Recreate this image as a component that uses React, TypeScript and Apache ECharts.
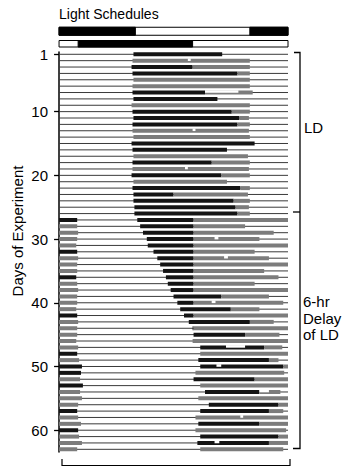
import React, { useEffect, useRef } from 'react';
import * as echarts from 'echarts';

// ---- data ----
const DAYS: number[] = Array.from({ length: 63 }, (_, i) => i + 1);
const DAY_TICKS = [1, 10, 20, 30, 40, 50, 60];
const SHIFT_DAY = 27; // first day of the 6-hr delayed LD

// activity onset (h) per day
const ONSET = [
  7.8, 7.7, 7.6, 7.7, 7.8, 7.7, 7.7, 7.8, 7.6, 7.7, 7.8, 7.7, 7.7, 7.8, 7.6, 7.7, 7.8, 7.7, 7.7, 7.6, 7.8, 7.7, 7.8, 7.8, 7.9, 7.9,
  8.2, 8.5, 8.8, 9.2, 9.3, 9.9, 10.3, 10.6, 10.9, 11.2, 11.4, 11.7, 12.0, 12.4, 12.7, 13.1, 13.6, 14.0,
  14.1, 14.0, 14.8, 14.8, 14.6, 14.8, 14.3, 14.1, 14.8, 15.3, 14.6, 15.7, 14.8, 14.3, 14.6, 14.3, 14.8, 14.5, 14.8,
];
// end of the dense (dark) part of activity (h) per day
const DARK_END = [
  17.1, 7.7, 14.0, 18.7, 7.8, 7.7, 15.3, 16.6, 7.6, 18.1, 18.9, 18.7, 7.7, 7.8, 20.5, 17.6, 7.8, 16.0, 7.7, 17.0, 7.8, 19.0, 12.0, 18.3, 18.5, 18.7,
  14.1, 14.1, 14.1, 14.1, 14.1, 14.1, 14.1, 14.1, 14.1, 14.1, 14.1, 14.1, 17.0, 14.1, 18.0, 14.1, 20.0, 14.1,
  19.5, 14.0, 21.5, 14.8, 22.0, 23.5, 14.3, 20.5, 14.8, 21.0, 14.6, 23.0, 22.0, 14.3, 21.0, 14.3, 23.0, 22.0, 14.8,
];
// activity offset (h) per day
const OFFSET = [
  17.1, 20.0, 20.0, 20.0, 20.0, 20.0, 20.3, 16.6, 20.0, 20.0, 19.9, 20.0, 19.9, 20.0, 20.5, 17.6, 19.8, 20.0, 19.9, 20.0, 17.6, 20.0, 19.8, 20.0, 19.9, 20.0,
  24, 19.5, 22.5, 21, 24, 20.5, 22, 24, 21.5, 23, 20.5, 24, 22, 23.5, 21, 24, 22.5, 24,
  23.1, 24, 23.4, 24, 23.0, 24, 23.6, 24, 24, 23.2, 24, 24, 23.5, 24, 24, 23.8, 24, 24, 23.5,
];
// activity continuing past midnight (0 h -> value), days 27..63
const WRAP_END = [
  1.9, 1.9, 2.0, 1.9, 1.8, 1.9, 2.0, 1.9, 1.9, 1.8, 1.9, 2.0, 1.9, 1.9, 1.8, 1.9, 2.0, 1.9, 1.9, 1.8,
  2.0, 1.9, 2.1, 2.4, 2.3, 2.2, 2.5, 2.2, 2.4, 2.0, 1.9, 2.0, 2.3, 2.0, 2.1, 2.4, 1.9,
];
// print density of the wrapped part: k = dark, g = grey
const WRAP_SHADE = 'kggggkgggkgggggkgggggkgkkgkgggkggkggg';
// breaks in activity: [day, from h, to h]
const GAPS: number[][] = [
  [2, 13.5, 13.8], [7, 15.3, 18.8], [13, 14.0, 14.3], [19, 13.2, 13.5], [30, 16.3, 16.7], [33, 17.3, 17.7],
  [40, 16.0, 16.4], [47, 17.5, 19.5], [50, 16.5, 17.0], [54, 21.0, 22.0], [58, 19.0, 19.3], [62, 16.3, 16.8],
];
const SCHEDULE_ROWS = ['LD', 'Delayed LD'];
const SCHEDULE_DARK: number[][][] = [
  [[0, 8], [20, 24]],
  [[2, 14]],
];

const FONT = '"Liberation Sans", Arial, Helvetica, sans-serif';
const DARK = '#141414';
const GREY = '#7c7c7c';

export default function App() {
  const ref = useRef<HTMLDivElement>(null);
  useEffect(() => {
    if (!ref.current) return;
    const chart = echarts.init(ref.current, undefined, { renderer: 'svg' });

    const actData: number[][] = [];
    DAYS.forEach((d, i) => {
      const on = ONSET[i];
      const de = DARK_END[i];
      const off = OFFSET[i];
      if (de > on) actData.push([on, de, d, 1]);
      if (off > de) actData.push([Math.max(on, de), off, d, 0]);
      if (d >= SHIFT_DAY) {
        const w = WRAP_END[d - SHIFT_DAY];
        actData.push([0, w, d, WRAP_SHADE[d - SHIFT_DAY] === 'k' ? 1 : 0]);
      }
    });
    const baseData = DAYS.map((d) => [0, 24, d]);

    const schedData: number[][] = [];
    SCHEDULE_ROWS.forEach((_, r) => {
      schedData.push([0, 24, r + 0.5, 0, r]);
      SCHEDULE_DARK[r].forEach(([a, b]) => schedData.push([a, b, r + 0.5, 1, r]));
    });

    chart.setOption({
      animation: false,
      backgroundColor: '#ffffff',
      grid: [
        { left: 50, right: 56, top: 52, height: 400 },
        { left: 50, right: 56, top: 25, height: 25 },
      ],
      xAxis: [
        { gridIndex: 0, type: 'value', min: -0.95, max: 24, show: false },
        { gridIndex: 1, type: 'value', min: -0.95, max: 24, show: false },
      ],
      yAxis: [
        {
          gridIndex: 0,
          type: 'value',
          inverse: true,
          min: 0.64,
          max: 63.42,
          axisLine: { show: true, lineStyle: { color: '#000', width: 1.5 } },
          axisTick: { show: true, customValues: DAY_TICKS, length: 5, lineStyle: { color: '#000', width: 1.3 } },
          axisLabel: { customValues: DAY_TICKS, fontSize: 15, color: '#000', margin: 2, fontFamily: FONT },
          splitLine: { show: false },
        },
        { gridIndex: 1, type: 'value', inverse: true, min: 0, max: 2, show: false },
      ],
      series: [
        {
          type: 'custom',
          xAxisIndex: 0,
          yAxisIndex: 0,
          silent: true,
          data: baseData,
          encode: { x: [0, 1], y: 2 },
          renderItem: (_p: any, api: any) => {
            const s = api.coord([api.value(0), api.value(2)]);
            const e = api.coord([api.value(1), api.value(2)]);
            return {
              type: 'line',
              shape: { x1: s[0], y1: s[1], x2: e[0], y2: e[1] },
              style: { stroke: '#3a3a3a', lineWidth: 1 },
            };
          },
        },
        {
          type: 'custom',
          xAxisIndex: 0,
          yAxisIndex: 0,
          silent: true,
          data: actData,
          encode: { x: [0, 1], y: 2 },
          renderItem: (_p: any, api: any) => {
            const s = api.coord([api.value(0), api.value(2)]);
            const e = api.coord([api.value(1), api.value(2)]);
            return {
              type: 'rect',
              shape: { x: s[0], y: s[1] - 2, width: e[0] - s[0], height: 4 },
              style: { fill: api.value(3) ? DARK : GREY },
            };
          },
        },
        {
          type: 'custom',
          xAxisIndex: 0,
          yAxisIndex: 0,
          silent: true,
          data: GAPS.map(([d, a, b]) => [a, b, d]),
          encode: { x: [0, 1], y: 2 },
          renderItem: (_p: any, api: any) => {
            const s = api.coord([api.value(0), api.value(2)]);
            const e = api.coord([api.value(1), api.value(2)]);
            return {
              type: 'rect',
              shape: { x: s[0], y: s[1] - 2.3, width: e[0] - s[0], height: 2.6 },
              style: { fill: '#ffffff' },
            };
          },
        },
        {
          type: 'custom',
          xAxisIndex: 1,
          yAxisIndex: 1,
          silent: true,
          data: schedData,
          encode: { x: [0, 1], y: 2 },
          renderItem: (_p: any, api: any) => {
            const s = api.coord([api.value(0), api.value(2)]);
            const e = api.coord([api.value(1), api.value(2)]);
            const h = api.value(4) === 0 ? 8 : 6.5;
            return {
              type: 'rect',
              shape: { x: s[0], y: s[1] - h / 2, width: e[0] - s[0], height: h },
              style: { fill: api.value(3) ? '#000' : '#fff', stroke: '#000', lineWidth: 1 },
            };
          },
        },
      ],
      graphic: [
        { type: 'text', left: 59, top: 7, style: { text: 'Light Schedules', fontSize: 14, fill: '#000', fontFamily: FONT } },
        {
          type: 'text',
          x: 17,
          y: 231,
          rotation: Math.PI / 2,
          style: { text: 'Days of Experiment', fontSize: 15, fill: '#000', fontFamily: FONT, textAlign: 'center', textVerticalAlign: 'middle' },
        },
        { type: 'polyline', shape: { points: [[294, 52.5], [300, 52.5], [300, 448.5], [293, 448.5]] }, style: { stroke: '#000', lineWidth: 1.3, fill: 'none' } },
        { type: 'line', shape: { x1: 293, y1: 212, x2: 300, y2: 212 }, style: { stroke: '#000', lineWidth: 1.3 } },
        { type: 'polyline', shape: { points: [[62, 459], [62, 465.5], [290, 465.5], [290, 459]] }, style: { stroke: '#000', lineWidth: 1.2, fill: 'none' } },
        { type: 'text', x: 304, y: 127, style: { text: 'LD', fontSize: 15, fill: '#000', fontFamily: FONT, textVerticalAlign: 'middle' } },
        {
          type: 'text',
          x: 303,
          y: 318,
          style: { text: '6-hr\nDelay\nof LD', fontSize: 15, lineHeight: 16.5, fill: '#000', fontFamily: FONT, textVerticalAlign: 'middle' },
        },
      ],
    });
    return () => chart.dispose();
  }, []);
  return (
    <div
      ref={ref}
      style={{ position: 'fixed', left: 0, top: 0, width: 344, height: 466, background: '#fff' }}
    />
  );
}
